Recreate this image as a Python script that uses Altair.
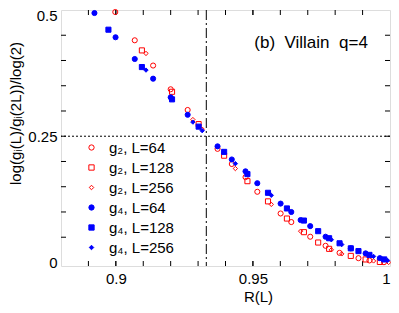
import altair as alt
import pandas as pd

# ---- data ----
g2_64_R = [0.8998, 0.9069, 0.9136, 0.9200, 0.9262, 0.9371, 0.9423, 0.9473, 0.9516, 0.9601, 0.9640, 0.9709, 0.9765, 0.9816, 0.9885, 0.9925, 0.9978]
g2_64_v = [0.496, 0.440, 0.390, 0.343, 0.302, 0.225, 0.195, 0.169, 0.140, 0.097, 0.080, 0.051, 0.033, 0.019, 0.0085, 0.004, 0.0005]

g2_128_R = [0.9095, 0.9205, 0.9302, 0.9395, 0.9480, 0.9555, 0.9624, 0.9686, 0.9738, 0.9778, 0.9857, 0.9911, 0.9963]
g2_128_v = [0.420, 0.338, 0.274, 0.2115, 0.161, 0.121, 0.087, 0.060, 0.0395, 0.027, 0.013, 0.006, 0.001]

g2_256_R = [0.9110, 0.9281, 0.9315, 0.9436, 0.9567, 0.9674, 0.9786, 0.9824, 0.9940, 0.9995]
g2_256_v = [0.414, 0.283, 0.264, 0.186, 0.115, 0.062, 0.025, 0.017, 0.003, 0.000]

g4_64_R = [0.8922, 0.8999, 0.9069, 0.9136, 0.9200, 0.9262, 0.9371, 0.9423, 0.9473, 0.9516, 0.9601, 0.9640, 0.9674, 0.9709, 0.9765, 0.9857, 0.9911, 0.9963]
g4_64_v = [0.494, 0.446, 0.403, 0.364, 0.327, 0.2925, 0.230, 0.204, 0.1805, 0.157, 0.1166, 0.100, 0.084, 0.072, 0.051, 0.028, 0.018, 0.0085]

g4_128_R = [0.8973, 0.9095, 0.9205, 0.9302, 0.9395, 0.9480, 0.9555, 0.9624, 0.9686, 0.9738, 0.9778, 0.9816, 0.9857, 0.9885, 0.9925, 0.9979]
g4_128_v = [0.461, 0.387, 0.323, 0.269, 0.219, 0.175, 0.138, 0.107, 0.083, 0.062, 0.048, 0.038, 0.028, 0.0225, 0.015, 0.006]

g4_256_R = [0.9110, 0.9281, 0.9315, 0.9436, 0.9567, 0.9786, 0.9824, 0.9940, 0.9991]
g4_256_v = [0.381, 0.278, 0.261, 0.1957, 0.133, 0.045, 0.0355, 0.012, 0.004]

series_labels = ["g\u2082, L=64", "g\u2082, L=128", "g\u2082, L=256",
                 "g\u2084, L=64", "g\u2084, L=128", "g\u2084, L=256"]

x_ticks = [0.89, 0.90, 0.91, 0.92, 0.93, 0.94, 0.95, 0.96, 0.97, 0.98, 0.99]
y_ticks = [0.05, 0.10, 0.15, 0.20, 0.25, 0.30, 0.35, 0.40, 0.45]
x_labels = [0.9, 0.95, 1.0]
y_labels = [0, 0.25, 0.5]
R_c = [0.933]
y_ref = [0.25]
annot = ["(b)\u00a0\u00a0Villain\u00a0\u00a0q=4"]
annot_R = [0.9505]
annot_v = [0.434]

# ---- build table ----
rows = []
for lab, R, v in zip(series_labels,
                     [g2_64_R, g2_128_R, g2_256_R, g4_64_R, g4_128_R, g4_256_R],
                     [g2_64_v, g2_128_v, g2_256_v, g4_64_v, g4_128_v, g4_256_v]):
    for a, b in zip(R, v):
        rows.append({"series": lab, "R": a, "v": b})
df = pd.DataFrame(rows)

W, H = 329, 256
FONT = "Liberation Sans"
TFONT = "Liberation Sans, DejaVu Sans, sans-serif"
xs = alt.Scale(domain=[0.88, 1.0], nice=False, zero=False)
ys = alt.Scale(domain=[-0.007, 0.5], nice=False, zero=False)

red, blue = "#ff0000", "#0000ff"
diamond = "M0,-0.85L0.85,0L0,0.85L-0.85,0Z"
shape_range = ["circle", "square", diamond, "circle", "square", diamond]
color_range = [red, red, red, blue, blue, blue]
fill_range = ["transparent", "transparent", "transparent", blue, blue, blue]

base = alt.Chart(df)

points = base.mark_point(size=26, strokeWidth=1, opacity=1, fillOpacity=1).encode(
    x=alt.X("R:Q", scale=xs,
            axis=alt.Axis(values=x_labels, format=".2~f", title="R(L)", grid=False,
                          ticks=False, domain=False, labelFont=FONT, labelFontSize=15,
                          labelPadding=5, labelColor="black", titleFont=FONT,
                          titleFontSize=15, titleFontWeight="normal", titleColor="black",
                          titleX=197, titleY=23, titleBaseline="top")),
    y=alt.Y("v:Q", scale=ys,
            axis=alt.Axis(values=y_labels, format=".2~f",
                          title="log(g\u1d62(L)/g\u1d62(2L))/log(2)", grid=False,
                          ticks=False, domain=False, labelFont=FONT, labelFontSize=15,
                          labelPadding=4, labelColor="black", titleFont=TFONT,
                          labelOffset={"condition": {"test": "datum.value == 0.5", "value": 5.5}, "value": 0},
                          titleFontSize=15, titleFontWeight="normal", titleColor="black",
                          titleX=-38, titleY=103)),
    color=alt.Color("series:N", scale=alt.Scale(domain=series_labels, range=color_range),
                    legend=alt.Legend(orient="none", legendX=23, legendY=130, title=None,
                                      labelFont=TFONT, labelFontSize=15, labelColor="black",
                                      symbolSize=28, symbolStrokeWidth=1, rowPadding=4,
                                      labelOffset=10, padding=0, symbolOffset=0)),
    shape=alt.Shape("series:N", scale=alt.Scale(domain=series_labels, range=shape_range)),
    fill=alt.Fill("series:N", scale=alt.Scale(domain=series_labels, range=fill_range)),
    order=alt.Order("series:N"),
)

vline = alt.Chart(pd.DataFrame({"R": R_c})).mark_rule(
    color="black", strokeWidth=1, strokeDash=[10, 3, 2, 3]).encode(x=alt.X("R:Q", scale=xs))
hline = alt.Chart(pd.DataFrame({"v": y_ref})).mark_rule(
    color="black", strokeWidth=1, strokeDash=[2, 2]).encode(y=alt.Y("v:Q", scale=ys))

tx = pd.DataFrame({"R": x_ticks + x_labels[:2]})
ty = pd.DataFrame({"v": y_ticks})
TL = 5
xb = alt.Chart(tx).mark_rule(color="black").encode(
    x=alt.X("R:Q", scale=xs), y=alt.value(H), y2=alt.value(H - TL))
xt = alt.Chart(tx).mark_rule(color="black").encode(
    x=alt.X("R:Q", scale=xs), y=alt.value(0), y2=alt.value(TL))
yl = alt.Chart(ty).mark_rule(color="black").encode(
    y=alt.Y("v:Q", scale=ys), x=alt.value(0), x2=alt.value(TL))
yr = alt.Chart(ty).mark_rule(color="black").encode(
    y=alt.Y("v:Q", scale=ys), x=alt.value(W - TL), x2=alt.value(W))

text = alt.Chart(pd.DataFrame({"R": annot_R, "v": annot_v, "t": annot})).mark_text(
    align="left", baseline="middle", font=FONT, fontSize=17, color="black").encode(
    x=alt.X("R:Q", scale=xs), y=alt.Y("v:Q", scale=ys), text="t:N")

chart = alt.layer(xb, xt, yl, yr, vline, hline, text, points).properties(
    width=W, height=H,
    autosize=alt.AutoSizeParams(type="none"),
    padding={"left": 53, "top": 2, "right": 1, "bottom": 39},
).configure_view(stroke="black", strokeWidth=1.3).configure(background="white")

chart.save("out.html", embed_options={"renderer": "svg", "actions": False})
